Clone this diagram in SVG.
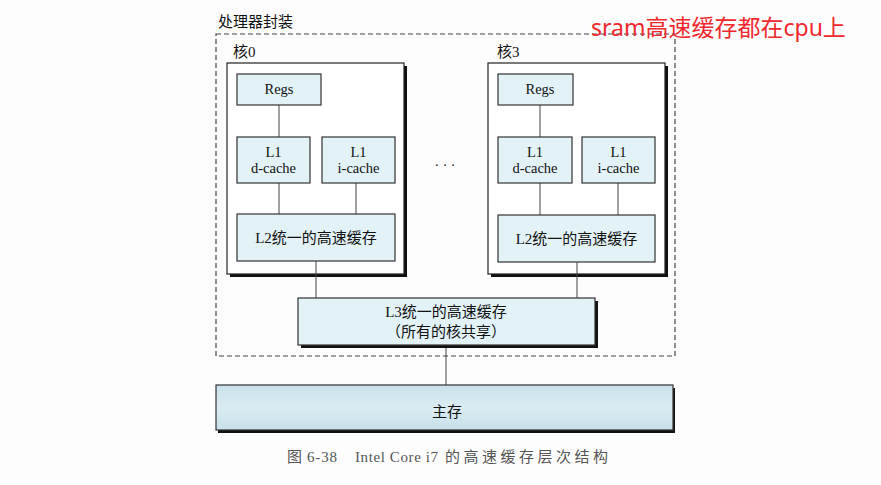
<svg xmlns="http://www.w3.org/2000/svg" width="881" height="485" viewBox="0 0 881 485">
<defs>
<style>
.t{font-family:"Liberation Serif","Noto Sans CJK SC",serif;fill:#111;text-anchor:middle}
.c{fill:#e3f2f7;stroke:#333;stroke-width:1.2}
.core{fill:#fff;stroke:#222;stroke-width:1.2}
.sh{fill:#111}
.ln{stroke:#444;stroke-width:1;fill:none}
.cap{font-family:"Liberation Serif","Noto Sans CJK SC",serif;font-size:15px;fill:#555}
</style>
<linearGradient id="mm" x1="0" y1="0" x2="0" y2="1">
<stop offset="0" stop-color="#c9e2ec"/><stop offset="0.5" stop-color="#dcecf2"/><stop offset="1" stop-color="#c6e0ea"/>
</linearGradient>
</defs>
<rect width="881" height="485" fill="#fdfdfd"/>
<g id="package">
<rect x="216" y="34" width="459" height="322" fill="none" stroke="#444" stroke-width="1.2" stroke-dasharray="5,3"/>
<text class="t" x="218" y="27" style="text-anchor:start;font-size:15px">处理器封装</text>
</g>
<g id="core0">
<text class="t" x="233" y="57" style="text-anchor:start;font-size:15px">核0</text>
<rect class="sh" x="230" y="66" width="177" height="211"/>
<rect class="core" x="227" y="63" width="177" height="211"/>
</g>
<g id="core3">
<text class="t" x="497" y="57" style="text-anchor:start;font-size:15px">核3</text>
<rect class="sh" x="491" y="66" width="177" height="211"/>
<rect class="core" x="488" y="63" width="177" height="211"/>
</g>
<g id="connectors">
<line class="ln" x1="279" y1="105" x2="279" y2="137"/>
<line class="ln" x1="279" y1="183" x2="279" y2="214"/>
<line class="ln" x1="356" y1="183" x2="356" y2="214"/>
<line class="ln" x1="540" y1="105" x2="540" y2="137"/>
<line class="ln" x1="540" y1="183" x2="540" y2="215"/>
<line class="ln" x1="618" y1="183" x2="618" y2="215"/>
<line class="ln" x1="316" y1="261" x2="316" y2="298"/>
<line class="ln" x1="577" y1="262" x2="577" y2="298"/>
<line class="ln" x1="446" y1="345" x2="446" y2="385"/>
</g>
<g id="core0-regs"><rect class="c" x="237" y="74" width="84" height="31"/><text class="t" x="279" y="94" font-size="14.5">Regs</text></g>
<g id="core0-l1d"><rect class="c" x="237" y="137" width="73" height="46"/><text class="t" x="273.5" y="157" font-size="14.5">L1</text><text class="t" x="273.5" y="173" font-size="14.5">d-cache</text></g>
<g id="core0-l1i"><rect class="c" x="322" y="137" width="73" height="46"/><text class="t" x="358.5" y="157" font-size="14.5">L1</text><text class="t" x="358.5" y="173" font-size="14.5">i-cache</text></g>
<g id="core0-l2"><rect class="c" x="237" y="214" width="158" height="47"/><text class="t" x="316" y="243" font-size="15">L2统一的高速缓存</text></g>
<g id="dots"><text class="t" x="445" y="170" font-size="14">· · ·</text></g>
<g id="core3-regs"><rect class="c" x="498" y="74" width="75" height="31"/><text class="t" x="540" y="94" font-size="14.5">Regs</text></g>
<g id="core3-l1d"><rect class="c" x="498" y="137" width="74" height="46"/><text class="t" x="535" y="157" font-size="14.5">L1</text><text class="t" x="535" y="173" font-size="14.5">d-cache</text></g>
<g id="core3-l1i"><rect class="c" x="582" y="137" width="73" height="46"/><text class="t" x="618.5" y="157" font-size="14.5">L1</text><text class="t" x="618.5" y="173" font-size="14.5">i-cache</text></g>
<g id="core3-l2"><rect class="c" x="498" y="215" width="157" height="47"/><text class="t" x="576.5" y="244" font-size="15">L2统一的高速缓存</text></g>
<g id="l3">
<rect class="sh" x="301" y="301" width="297" height="47"/>
<rect class="c" x="298" y="298" width="297" height="47"/>
<text class="t" x="446" y="317" font-size="15">L3统一的高速缓存</text>
<text class="t" x="446" y="337" font-size="15">（所有的核共享）</text>
</g>
<g id="mainmem">
<rect class="sh" x="218" y="388" width="457" height="45"/>
<rect x="216" y="385" width="457" height="45" fill="url(#mm)" stroke="#333" stroke-width="1.2"/>
<text class="t" x="447" y="417" font-size="15">主存</text>
</g>
<g id="caption">
<text class="cap" x="287" y="462">图</text>
<text class="cap" x="307" y="462" textLength="30" lengthAdjust="spacing">6-38</text>
<text class="cap" x="355" y="462" textLength="83" lengthAdjust="spacing">Intel Core i7</text>
<text class="cap" x="445" y="462" textLength="163" lengthAdjust="spacing">的高速缓存层次结构</text>
</g>
<g id="note">
<text x="591" y="36" style="font-family:'Noto Sans','Noto Sans CJK SC',sans-serif;font-size:23px;fill:#f0282d">sram高速缓存都在cpu上</text>
</g>
</svg>
